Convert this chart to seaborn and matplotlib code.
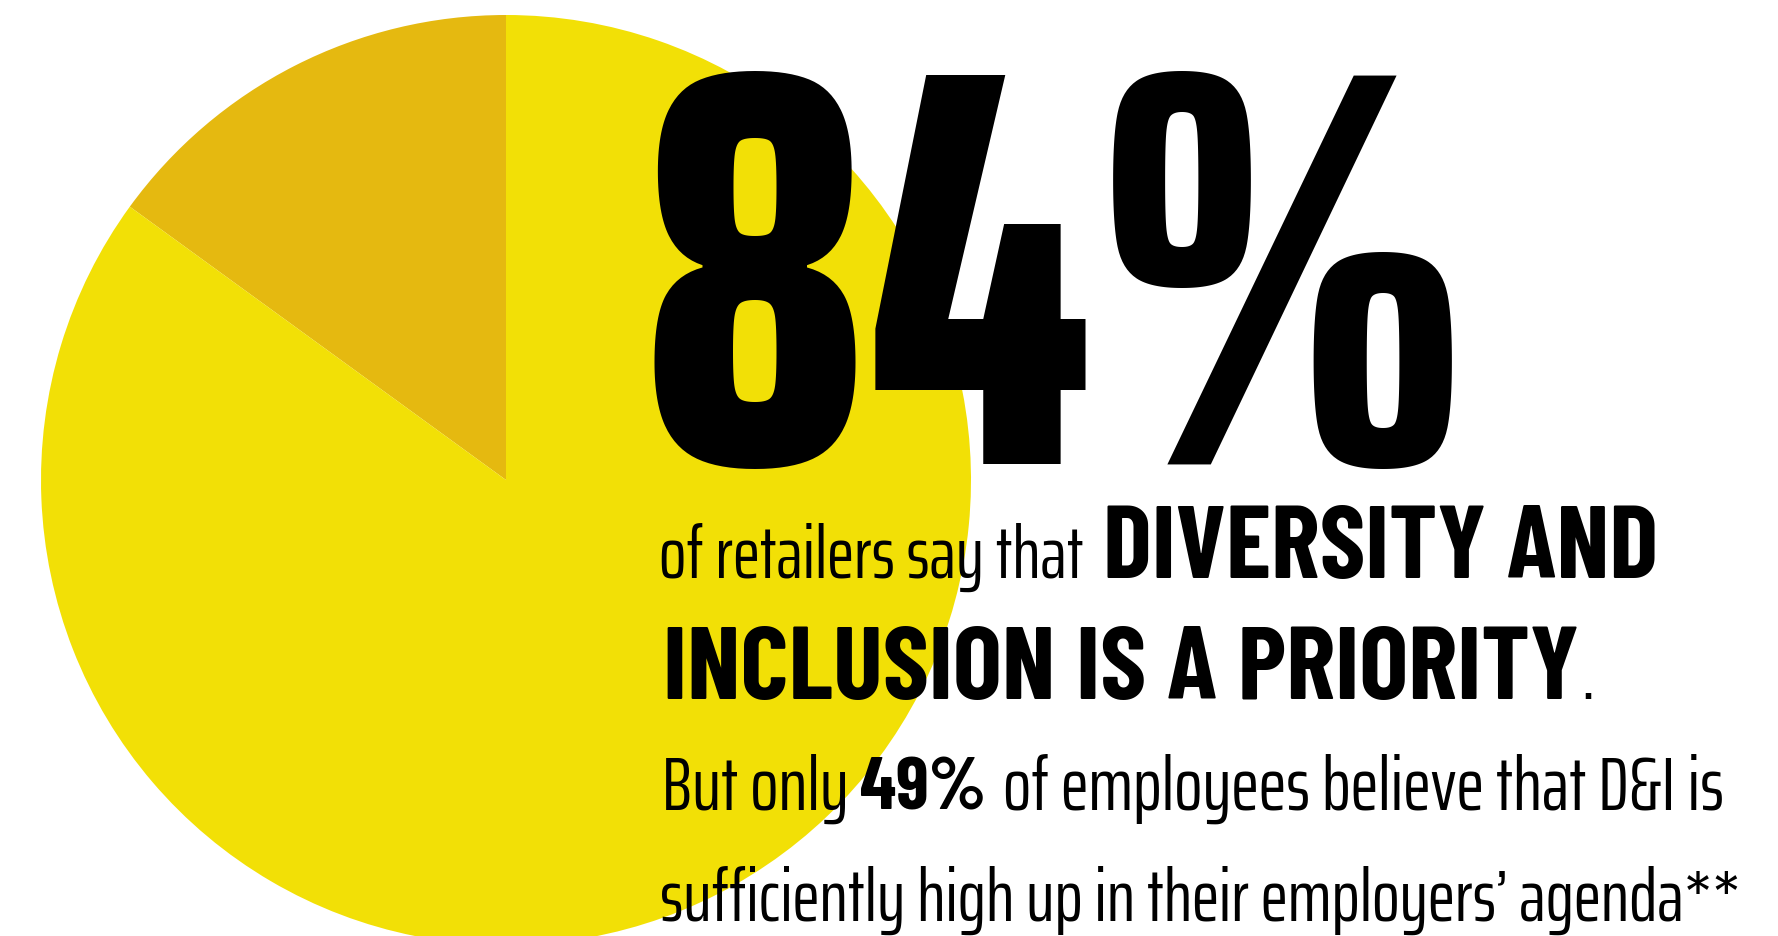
import matplotlib
matplotlib.use("Agg")
import matplotlib.pyplot as plt
import seaborn as sns
from matplotlib.font_manager import FontProperties
from matplotlib.textpath import TextPath

# ---- data ----
slice_labels = ["Not a priority", "Priority"]
slice_values = [15, 85]
slice_colors = ["#E5B910", "#F2E006"]

headline = "84%"
line1_light = "of retailers say that"
line1_bold = "DIVERSITY AND"
line2_bold = "INCLUSION IS A PRIORITY"
line2_end = "."
line3_a = "But only"
line3_bold = "49%"
line3_b = "of employees believe that D&I is"
line4 = "sufficiently high up in their employers\u2019 agenda**"

W, H, DPI = 1778, 937, 100

sns.set_theme(style="white")
plt.rcParams["font.family"] = ["DejaVu Sans"]

fig = plt.figure(figsize=(W / DPI, H / DPI), dpi=DPI)
ax = fig.add_axes([0, 0, 1, 1])
ax.pie(slice_values, colors=slice_colors, startangle=90, counterclock=True,
       center=(506, H - 481), radius=465, wedgeprops=dict(linewidth=0))
ax.set_xlim(0, W)
ax.set_ylim(0, H)
ax.set_axis_off()

BIG = FontProperties(family=["Saira ExtraCondensed", "Barlow Condensed", "DejaVu Sans"], weight=800)
BOLD = FontProperties(family=["Barlow Condensed", "Saira ExtraCondensed", "DejaVu Sans"], weight=700)
LIGHT = FontProperties(family=["Saira ExtraCondensed", "Barlow Condensed", "DejaVu Sans"], weight=400)


def ink(s, fp):
    v = TextPath((0, 0), s, size=100, prop=fp).vertices
    return v[:, 0].min(), v[:, 0].max()


def size_for(s, fp, width_px):
    x0, x1 = ink(s, fp)
    return width_px * 100 * 72 / ((x1 - x0) * DPI)


def place(s, fp, left_px, baseline_px, size):
    x0, _ = ink(s, fp)
    off = x0 * size / 100 * DPI / 72
    ax.text(left_px - off, H - baseline_px, s, fontproperties=fp, fontsize=size,
            ha="left", va="baseline", color="black")


# headline
s_big = size_for(headline, BIG, 812)
place(headline, BIG, 641, 464, s_big)

# line 1
s_l1 = size_for(line1_light, LIGHT, 423)
place(line1_light, LIGHT, 659, 578, s_l1)
s_b1 = size_for(line1_bold, BOLD, 552)
place(line1_bold, BOLD, 1103, 578, s_b1)

# line 2
s_b2 = size_for(line2_bold, BOLD, 913)
place(line2_bold, BOLD, 663, 699, s_b2)
place(line2_end, LIGHT, 1581, 699, s_l1)

# line 3
s_l3 = size_for(line3_b, LIGHT, 719)
place(line3_a, LIGHT, 662, 810, s_l3)
s_b3 = size_for(line3_bold, BOLD, 123)
place(line3_bold, BOLD, 860, 810, s_b3)
place(line3_b, LIGHT, 1003, 810, s_l3)

# line 4
s_l4 = size_for(line4, LIGHT, 1078)
place(line4, LIGHT, 660, 921, s_l4)

fig.savefig("out.png", dpi=DPI, facecolor="white")
